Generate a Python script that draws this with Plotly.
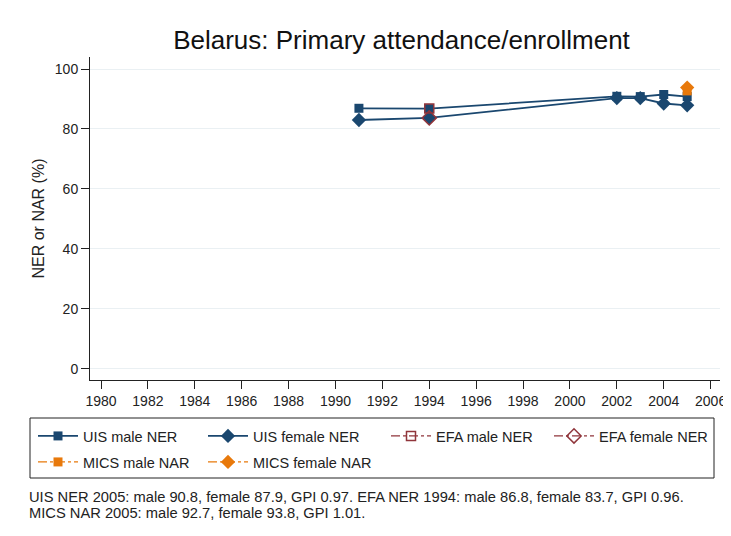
import plotly.graph_objects as go

years_uis = [1991, 1994, 2002, 2003, 2004, 2005]
uis_male = [86.9, 86.8, 90.9, 90.8, 91.5, 90.8]
uis_female = [83.0, 83.7, 90.3, 90.3, 88.5, 87.9]
years_efa = [1994]
efa_male = [86.8]
efa_female = [83.7]
years_mics = [2005]
mics_male = [92.7]
mics_female = [93.8]
x_ticks = list(range(1980, 2007, 2))
y_ticks = [0, 20, 40, 60, 80, 100]
note_lines = [
    "UIS NER 2005: male 90.8, female 87.9, GPI 0.97. EFA NER 1994: male 86.8, female 83.7, GPI 0.96.",
    "MICS NAR 2005: male 92.7, female 93.8, GPI 1.01.",
]

NAVY = "#1a476f"
MAROON = "#90353b"
ORANGE = "#e8790b"
FONT = "Liberation Sans, Arial, sans-serif"

# page body has an 8px margin, so the figure is 8px smaller and offset
OFF = 8
W, H = 731 - OFF, 536 - OFF
L, R, T, B = 82, 11, 49, 156
PW, PH = W - L - R, H - T - B


def px(x_page):
    return (x_page - OFF - L) / PW


def py(y_page):
    return (PH - (y_page - OFF - T)) / PH


fig = go.Figure()
fig.add_trace(go.Scatter(x=years_uis, y=uis_male, name="UIS male NER", mode="lines+markers", legend="legend",
                         line=dict(color=NAVY, width=1.8), marker=dict(symbol="square", size=9, color=NAVY)))
fig.add_trace(go.Scatter(x=years_uis, y=uis_female, name="UIS female NER", mode="lines+markers", legend="legend2",
                         line=dict(color=NAVY, width=1.8), marker=dict(symbol="diamond", size=11, color=NAVY)))
fig.add_trace(go.Scatter(x=years_efa, y=efa_male, name="EFA male NER", mode="lines+markers", legend="legend3",
                         line=dict(color=MAROON, width=1.2, dash="dashdot"),
                         marker=dict(symbol="square-open", size=9, color=MAROON, line=dict(width=1.5))))
fig.add_trace(go.Scatter(x=years_efa, y=efa_female, name="EFA female NER", mode="lines+markers", legend="legend4",
                         line=dict(color=MAROON, width=1.2, dash="dashdot"),
                         marker=dict(symbol="diamond-open", size=11, color=MAROON, line=dict(width=1.5))))
fig.add_trace(go.Scatter(x=years_mics, y=mics_male, name="MICS male NAR", mode="lines+markers", legend="legend5",
                         line=dict(color=ORANGE, width=1.2, dash="dashdot"),
                         marker=dict(symbol="square", size=9, color=ORANGE)))
fig.add_trace(go.Scatter(x=years_mics, y=mics_female, name="MICS female NAR", mode="lines+markers", legend="legend6",
                         line=dict(color=ORANGE, width=1.2, dash="dashdot"),
                         marker=dict(symbol="diamond", size=11, color=ORANGE)))

annotations = []
for i, line in enumerate(note_lines):
    annotations.append(dict(text=line, xref="paper", yref="paper", x=px(27), y=py(487 + 16 * i),
                            xanchor="left", yanchor="top", align="left", showarrow=False,
                            font=dict(size=14.7, color="#222")))

legend_text_x = [82, 252, 435, 598, 82, 252]
legend_row_y = [436, 436, 436, 436, 462, 462]
legends = {}
for i, (tx, ty) in enumerate(zip(legend_text_x, legend_row_y)):
    key = "legend" if i == 0 else f"legend{i + 1}"
    legends[key] = dict(orientation="h", xref="paper", yref="paper", x=px(tx - 49), y=py(ty),
                        xanchor="left", yanchor="middle", bgcolor="rgba(0,0,0,0)", borderwidth=0,
                        font=dict(size=14.5, color="#222"), itemwidth=40)

fig.update_layout(
    width=W, height=H,
    paper_bgcolor="white", plot_bgcolor="white",
    margin=dict(l=L, r=R, t=T, b=B, autoexpand=False),
    font=dict(family=FONT, color="#222", size=14),
    title=dict(text="Belarus: Primary attendance/enrollment", xref="container", x=(401.5 - OFF) / W,
               xanchor="center", yref="container", y=1 - (40 - OFF) / H, yanchor="middle",
               font=dict(size=26, color="#111")),
    showlegend=True,
    annotations=annotations,
    shapes=[dict(type="rect", xref="paper", yref="paper", x0=px(30), x1=px(714), y0=py(418), y1=py(478),
                 line=dict(color="#222", width=1), fillcolor="rgba(0,0,0,0)", layer="above")],
    **legends,
)
fig.update_xaxes(range=[1979.53, 2006.4], tickvals=x_ticks, ticks="outside", ticklen=8,
                 showline=True, linecolor="#222", linewidth=1, showgrid=False, zeroline=False,
                 tickcolor="#222", tickfont=dict(size=14))
fig.update_yaxes(range=[-3.7, 104], tickvals=y_ticks, ticks="outside", ticklen=8,
                 showline=True, linecolor="#222", linewidth=1, showgrid=True, gridcolor="#eaf0f3",
                 zeroline=False, tickcolor="#222", tickfont=dict(size=14),
                 title=dict(text="NER or NAR (%)", font=dict(size=16), standoff=6))

fig.write_html("out.html")
